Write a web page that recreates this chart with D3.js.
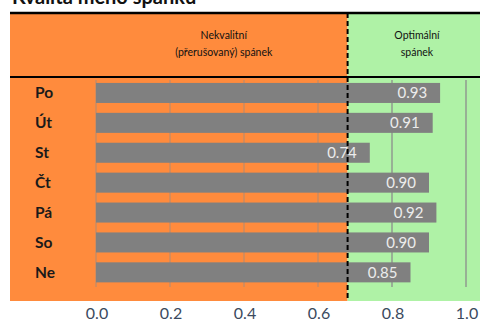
<!DOCTYPE html>
<html><head><meta charset="utf-8">
<script src="https://cdn.jsdelivr.net/npm/d3@7"></script>
<style>
html,body{margin:0;padding:0;background:#fff;}
svg{display:block;}
</style></head>
<body>
<script>
const title = "Kvalita mého spánku";
const days = ["Po","Út","St","Čt","Pá","So","Ne"];
const values = [0.93,0.91,0.74,0.90,0.92,0.90,0.85];
const valueLabels = ["0.93","0.91","0.74","0.90","0.92","0.90","0.85"];
const tickValues = [0.0,0.2,0.4,0.6,0.8,1.0];
const tickLabels = ["0.0","0.2","0.4","0.6","0.8","1.0"];
const threshold = 0.68;
const zoneLeftLabel = ["Nekvalitní","(přerušovaný) spánek"];
const zoneRightLabel = ["Optimální","spánek"];

(function(){
const W=480,H=319;
const font="Lato, 'Open Sans', sans-serif";
const orange="#ff8b3d", green="#aff2a6", barCol="#808080";
const svg=d3.select("body").append("svg").attr("width",W).attr("height",H);

const x=d3.scaleLinear().domain([0,1]).range([96,466]);
const y=d3.scaleBand().domain(days).range([78,287.3]).paddingInner(0.33).paddingOuter(0.165);

const bl=10, bt=13, headB=77, bb=301;
const tx=x(threshold);

svg.append("text").attr("x",12).attr("y",4).attr("font-family",font).attr("font-weight","bold")
  .attr("font-size",20).attr("fill","#111").text(title);

svg.append("rect").attr("x",bl).attr("y",bt).attr("width",tx-bl).attr("height",bb-bt).attr("fill",orange);
svg.append("rect").attr("x",tx).attr("y",bt).attr("width",W-tx).attr("height",bb-bt).attr("fill",green);

svg.append("g").selectAll("line").data(tickValues).join("line")
  .attr("x1",d=>x(d)).attr("x2",d=>x(d)).attr("y1",80).attr("y2",287)
  .attr("stroke","#8c8c8c").attr("stroke-width",1.3).attr("stroke-opacity",d=>x(d)<tx?0.55:1);

svg.append("g").selectAll("rect").data(values).join("rect")
  .attr("x",x(0)).attr("y",(d,i)=>y(days[i])).attr("width",d=>x(d)-x(0)).attr("height",y.bandwidth())
  .attr("fill",barCol);

svg.append("g").selectAll("text").data(values).join("text")
  .attr("x",d=>x(d)-13).attr("y",(d,i)=>y(days[i])+y.bandwidth()/2+5.5)
  .attr("text-anchor","end").attr("font-family",font).attr("font-size",15)
  .attr("fill","#ececec").text((d,i)=>valueLabels[i]);

svg.append("g").selectAll("text").data(days).join("text")
  .attr("x",35).attr("y",d=>y(d)+y.bandwidth()/2+5.5)
  .attr("font-family",font).attr("font-weight","bold").attr("font-size",15.5)
  .attr("fill","#1a1a1a").text(d=>d);

svg.append("g").selectAll("text").data(tickValues).join("text")
  .attr("x",d=>x(d)+1).attr("y",318.5).attr("text-anchor","middle")
  .attr("font-family",font).attr("font-size",16).attr("fill","#3b4a5e")
  .text((d,i)=>tickLabels[i]);

svg.append("line").attr("x1",bl).attr("x2",W).attr("y1",bt).attr("y2",bt).attr("stroke","#000").attr("stroke-width",2.5);
svg.append("line").attr("x1",bl).attr("x2",W).attr("y1",headB).attr("y2",headB).attr("stroke","#000").attr("stroke-width",2);

svg.append("line").attr("x1",tx).attr("x2",tx).attr("y1",bt).attr("y2",bb)
  .attr("stroke","#000").attr("stroke-width",2).attr("stroke-dasharray","5,3");

const lc=(x(0)+tx)/2+2, rc=417;
zoneLeftLabel.forEach((t,i)=>svg.append("text").attr("x",lc).attr("y",39+i*17).attr("text-anchor","middle")
  .attr("font-family",font).attr("font-size",10.5).attr("fill","#111").text(t));
zoneRightLabel.forEach((t,i)=>svg.append("text").attr("x",rc).attr("y",39+i*17).attr("text-anchor","middle")
  .attr("font-family",font).attr("font-size",10.5).attr("fill","#111").text(t));
})();
</script>
</body></html>
